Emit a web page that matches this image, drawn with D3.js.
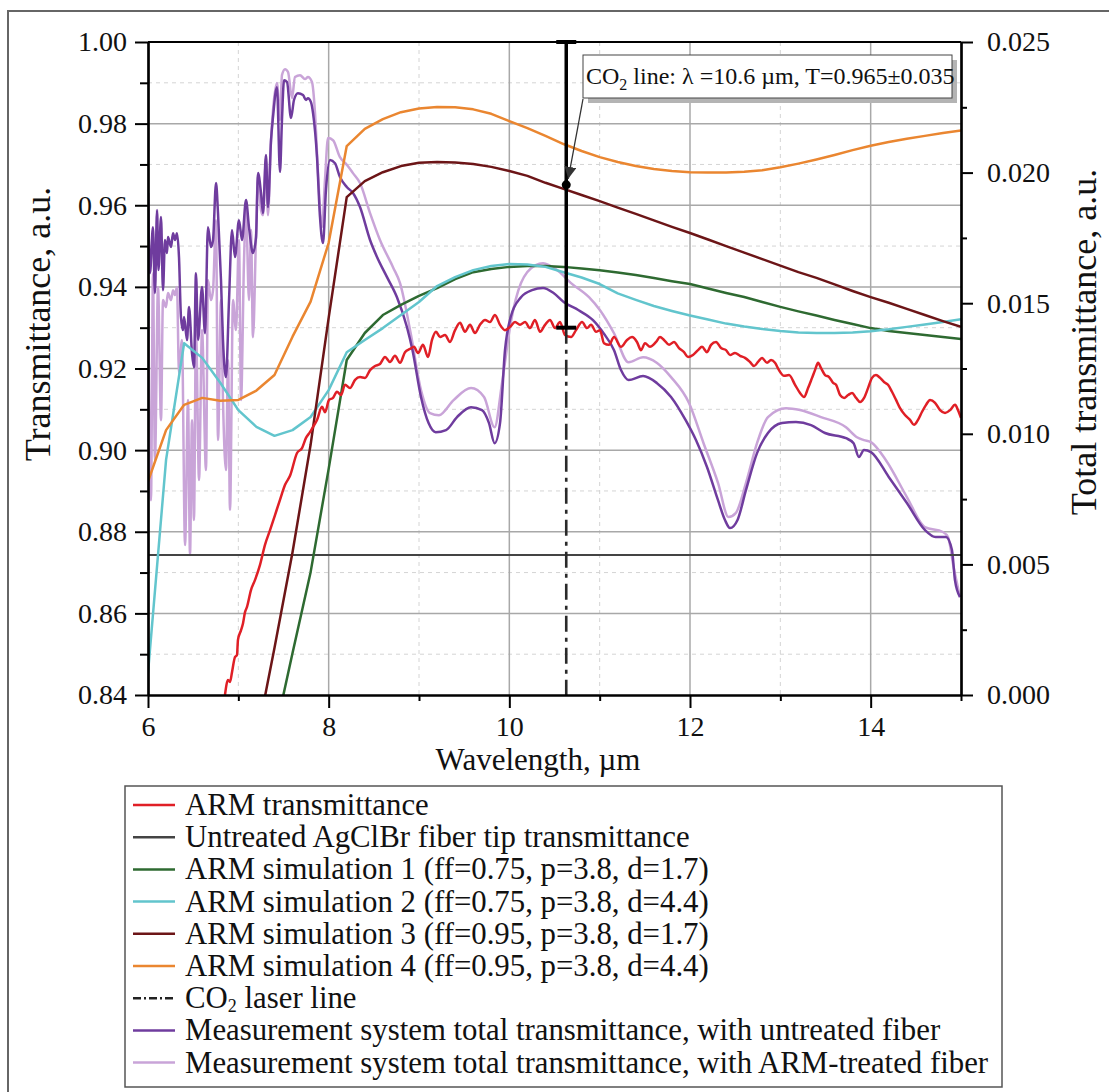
<!DOCTYPE html>
<html>
<head>
<meta charset="utf-8">
<script src="https://cdn.jsdelivr.net/npm/d3@7"></script>
<style>
  body { margin: 0; background: #fff; }
  svg { display: block; font-family: "Liberation Serif", "Times New Roman", serif; }
</style>
</head>
<body>
<svg id="canvas" width="1109" height="1092"></svg>
<script>
// simulation grid (µm)
let simWl = [6.0,6.2,6.4,6.6,6.8,7.0,7.2,7.4,7.6,7.8,8.0,8.2,8.4,8.6,8.8,9.0,9.2,9.4,9.6,9.8,10.0,10.2,10.4,10.6,10.8,11.0,11.2,11.4,11.6,11.8,12.0,12.2,12.4,12.6,12.8,13.0,13.2,13.4,13.6,13.8,14.0,14.2,14.4,14.6,14.8,15.0];
let sim1 = [null,null,null,null,null,null,null,0.8300,0.8503,0.8701,0.8954,0.9221,0.9287,0.9331,0.9356,0.9378,0.9397,0.9419,0.9436,0.9444,0.9449,0.9451,0.9451,0.9449,0.9445,0.9441,0.9435,0.9429,0.9422,0.9414,0.9407,0.9396,0.9385,0.9375,0.9363,0.9351,0.9340,0.9330,0.9319,0.9309,0.9299,0.9292,0.9287,0.9282,0.9277,0.9272];
let sim2 = [0.8454,0.8976,0.9262,0.9226,0.9165,0.9098,0.9057,0.9035,0.9049,0.9081,0.9147,0.9240,0.9270,0.9299,0.9331,0.9363,0.9402,0.9424,0.9441,0.9451,0.9456,0.9455,0.9449,0.9436,0.9423,0.9407,0.9384,0.9368,0.9353,0.9341,0.9330,0.9320,0.9310,0.9303,0.9297,0.9292,0.9288,0.9287,0.9287,0.9288,0.9291,0.9296,0.9302,0.9308,0.9314,0.9321];
let sim3 = [null,null,null,null,null,null,0.8290,0.8515,0.8750,0.9013,0.9324,0.9620,0.9659,0.9681,0.9696,0.9704,0.9706,0.9705,0.9701,0.9694,0.9684,0.9672,0.9655,0.9640,0.9625,0.9610,0.9594,0.9579,0.9563,0.9547,0.9532,0.9516,0.9500,0.9484,0.9468,0.9452,0.9436,0.9422,0.9406,0.9390,0.9375,0.9361,0.9346,0.9331,0.9316,0.9302];
let sim4 = [0.8923,0.9049,0.9111,0.9128,0.9121,0.9123,0.9146,0.9184,0.9278,0.9364,0.9508,0.9745,0.9787,0.9811,0.9828,0.9837,0.9841,0.9840,0.9835,0.9824,0.9806,0.9789,0.9770,0.9750,0.9733,0.9718,0.9706,0.9696,0.9689,0.9684,0.9681,0.9680,0.9680,0.9682,0.9686,0.9693,0.9702,0.9712,0.9723,0.9735,0.9746,0.9755,0.9763,0.9770,0.9777,0.9783];

// measured ARM transmittance
let armWl = [6.852,6.886,6.908,6.930,6.963,6.985,6.996,7.030,7.052,7.074,7.096,7.140,7.185,7.240,7.295,7.351,7.406,7.461,7.517,7.572,7.650,7.705,7.749,7.793,7.827,7.871,7.926,7.960,8.004,8.048,8.092,8.137,8.181,8.236,8.292,8.347,8.402,8.458,8.513,8.568,8.624,8.679,8.734,8.790,8.845,8.900,8.945,8.989,9.044,9.100,9.144,9.188,9.233,9.288,9.343,9.399,9.454,9.509,9.565,9.620,9.675,9.731,9.786,9.841,9.897,9.952,10.008,10.063,10.118,10.174,10.229,10.284,10.340,10.395,10.450,10.506,10.561,10.616,10.683,10.738,10.805,10.860,10.904,10.960,11.004,11.048,11.103,11.159,11.236,11.303,11.358,11.413,11.458,11.502,11.557,11.624,11.668,11.712,11.768,11.823,11.878,11.934,11.978,12.033,12.089,12.133,12.188,12.233,12.288,12.344,12.399,12.443,12.498,12.554,12.609,12.664,12.709,12.753,12.797,12.853,12.897,12.941,12.985,13.041,13.096,13.163,13.218,13.262,13.307,13.351,13.384,13.418,13.451,13.495,13.540,13.584,13.617,13.661,13.706,13.750,13.794,13.839,13.883,13.927,13.971,14.015,14.059,14.104,14.148,14.192,14.236,14.281,14.325,14.380,14.436,14.480,14.524,14.569,14.613,14.657,14.713,14.768,14.823,14.879,14.934,14.967,15.000];
let armT = [0.8400,0.8437,0.8432,0.8456,0.8493,0.8498,0.8535,0.8559,0.8576,0.8603,0.8616,0.8657,0.8682,0.8719,0.8768,0.8804,0.8841,0.8878,0.8915,0.8937,0.8993,0.9005,0.9030,0.9044,0.9057,0.9074,0.9106,0.9093,0.9123,0.9128,0.9143,0.9135,0.9160,0.9152,0.9172,0.9179,0.9177,0.9196,0.9206,0.9211,0.9228,0.9216,0.9231,0.9214,0.9240,0.9248,0.9253,0.9238,0.9258,0.9228,0.9270,0.9290,0.9277,0.9282,0.9265,0.9294,0.9312,0.9290,0.9307,0.9287,0.9307,0.9319,0.9314,0.9331,0.9307,0.9294,0.9302,0.9314,0.9307,0.9314,0.9299,0.9319,0.9290,0.9307,0.9319,0.9299,0.9314,0.9282,0.9277,0.9294,0.9314,0.9299,0.9307,0.9290,0.9294,0.9262,0.9258,0.9277,0.9253,0.9270,0.9277,0.9265,0.9245,0.9262,0.9253,0.9265,0.9277,0.9270,0.9258,0.9265,0.9250,0.9240,0.9228,0.9233,0.9245,0.9253,0.9240,0.9258,0.9265,0.9250,0.9245,0.9233,0.9238,0.9231,0.9226,0.9216,0.9206,0.9216,0.9226,0.9214,0.9221,0.9214,0.9196,0.9182,0.9184,0.9160,0.9140,0.9130,0.9152,0.9177,0.9196,0.9214,0.9201,0.9184,0.9179,0.9165,0.9160,0.9135,0.9128,0.9135,0.9140,0.9128,0.9118,0.9128,0.9152,0.9177,0.9184,0.9177,0.9167,0.9160,0.9143,0.9123,0.9103,0.9086,0.9074,0.9062,0.9074,0.9094,0.9111,0.9123,0.9116,0.9098,0.9091,0.9098,0.9111,0.9098,0.9079];

// untreated fiber tip (constant)
let fiberT = 0.8743;

// measurement system total transmittance (right axis)
let untreatedWl = [6.000,6.022,6.055,6.077,6.100,6.116,6.144,6.166,6.188,6.210,6.221,6.255,6.277,6.299,6.321,6.343,6.365,6.387,6.399,6.432,6.454,6.487,6.509,6.531,6.554,6.598,6.631,6.664,6.697,6.720,6.753,6.775,6.808,6.830,6.863,6.897,6.930,6.963,7.007,7.041,7.085,7.118,7.162,7.196,7.218,7.251,7.273,7.306,7.328,7.362,7.384,7.428,7.461,7.483,7.506,7.539,7.583,7.616,7.660,7.716,7.749,7.771,7.804,7.827,7.871,7.904,7.937,7.970,8.015,8.070,8.125,8.203,8.269,8.347,8.458,8.535,8.646,8.756,8.867,8.928,9.022,9.106,9.185,9.299,9.421,9.576,9.697,9.775,9.837,9.897,9.952,10.015,10.129,10.251,10.373,10.490,10.605,10.767,10.926,11.043,11.159,11.236,11.320,11.480,11.635,11.790,11.952,12.066,12.188,12.310,12.387,12.443,12.526,12.620,12.742,12.863,13.018,13.173,13.340,13.495,13.727,13.811,13.870,13.926,14.003,14.202,14.401,14.600,14.718,14.834,14.900,14.933,14.989];
let untreatedT = [0.01922,0.01615,0.01791,0.01539,0.01857,0.01627,0.01830,0.01550,0.01742,0.01692,0.01753,0.01715,0.01768,0.01742,0.01768,0.01677,0.01447,0.01397,0.01447,0.01359,0.01485,0.01309,0.01255,0.01615,0.01359,0.01562,0.01385,0.01791,0.01715,0.01742,0.01960,0.01845,0.01589,0.01359,0.01217,0.01512,0.01780,0.01677,0.01818,0.01742,0.01895,0.01791,0.01692,0.01753,0.01998,0.01922,0.01845,0.02067,0.01868,0.02124,0.02213,0.02327,0.02002,0.02201,0.02354,0.02347,0.02209,0.02278,0.02304,0.02297,0.02278,0.02285,0.02270,0.02228,0.02059,0.01830,0.01730,0.01933,0.02048,0.02036,0.01983,0.01944,0.01922,0.01868,0.01742,0.01677,0.01600,0.01523,0.01408,0.01320,0.01141,0.01041,0.01006,0.01014,0.01064,0.01102,0.01091,0.01041,0.00964,0.01041,0.01320,0.01447,0.01523,0.01550,0.01558,0.01539,0.01504,0.01473,0.01435,0.01385,0.01320,0.01244,0.01206,0.01221,0.01194,0.01141,0.01052,0.00976,0.00873,0.00746,0.00670,0.00639,0.00670,0.00785,0.00926,0.01003,0.01041,0.01045,0.01033,0.01003,0.00983,0.00964,0.00911,0.00938,0.00930,0.00834,0.00735,0.00632,0.00605,0.00605,0.00555,0.00440,0.00375];
let treatedWl = [6.000,6.033,6.055,6.077,6.111,6.144,6.166,6.199,6.221,6.255,6.277,6.299,6.321,6.343,6.376,6.410,6.443,6.465,6.487,6.509,6.531,6.565,6.598,6.642,6.664,6.697,6.720,6.753,6.775,6.808,6.830,6.863,6.886,6.908,6.941,6.974,7.007,7.030,7.063,7.085,7.118,7.140,7.162,7.196,7.218,7.251,7.273,7.306,7.328,7.362,7.384,7.428,7.461,7.483,7.517,7.550,7.594,7.627,7.683,7.738,7.771,7.815,7.849,7.882,7.926,7.959,7.993,8.048,8.125,8.203,8.269,8.347,8.458,8.568,8.712,8.790,8.908,9.022,9.122,9.221,9.383,9.576,9.720,9.837,9.919,10.015,10.129,10.292,10.373,10.528,10.683,10.882,11.004,11.159,11.320,11.480,11.635,11.790,11.989,12.150,12.310,12.427,12.506,12.620,12.742,12.863,13.063,13.218,13.450,13.727,13.848,13.926,14.003,14.169,14.401,14.600,14.799,14.856,14.918,14.989];
let treatedT = [0.01615,0.00746,0.01615,0.00899,0.01562,0.01052,0.01512,0.01485,0.01539,0.01512,0.01550,0.01531,0.01562,0.01232,0.01359,0.00574,0.01129,0.00536,0.01052,0.00670,0.01397,0.00823,0.01397,0.00861,0.01589,0.01512,0.01550,0.01818,0.00976,0.01512,0.01129,0.00861,0.01282,0.00708,0.01512,0.01397,0.01742,0.01129,0.01665,0.01857,0.01512,0.01780,0.01370,0.01761,0.01991,0.01857,0.01837,0.02048,0.01837,0.02124,0.02239,0.02343,0.02201,0.02373,0.02396,0.02385,0.02285,0.02366,0.02373,0.02358,0.02366,0.02347,0.02228,0.01998,0.01791,0.01971,0.02132,0.02124,0.02059,0.02029,0.01998,0.01960,0.01845,0.01742,0.01638,0.01577,0.01385,0.01167,0.01079,0.01071,0.01129,0.01175,0.01141,0.01025,0.01194,0.01424,0.01577,0.01646,0.01653,0.01627,0.01577,0.01523,0.01473,0.01385,0.01274,0.01293,0.01271,0.01217,0.01118,0.00964,0.00812,0.00681,0.00696,0.00812,0.00964,0.01064,0.01098,0.01091,0.01064,0.01025,0.00987,0.00976,0.00968,0.00899,0.00758,0.00643,0.00624,0.00605,0.00490,0.00375];

// CO2 laser line with error bar
let co2Wl = 10.63;
let co2T = 0.965;
let co2Err = 0.035;

let xTicks = [6, 8, 10, 12, 14];
let xMinor = [7, 9, 11, 13, 15];
let yTicks = [0.84, 0.86, 0.88, 0.90, 0.92, 0.94, 0.96, 0.98, 1.00];
let yMinor = [0.85, 0.87, 0.89, 0.91, 0.93, 0.95, 0.97, 0.99];
let yRTicks = [0, 0.005, 0.010, 0.015, 0.020, 0.025];
let yRMinor = [0.0025, 0.0075, 0.0125, 0.0175, 0.0225];

let legendItems = [
  { label: 'ARM transmittance', color: '#e01f26' },
  { label: 'Untreated AgClBr fiber tip transmittance', color: '#444444' },
  { label: 'ARM simulation 1 (ff=0.75, p=3.8, d=1.7)', color: '#2e6a31' },
  { label: 'ARM simulation 2 (ff=0.75, p=3.8, d=4.4)', color: '#62c5cd' },
  { label: 'ARM simulation 3 (ff=0.95, p=3.8, d=1.7)', color: '#6c1517' },
  { label: 'ARM simulation 4 (ff=0.95, p=3.8, d=4.4)', color: '#ea8630' },
  { label: 'CO2 laser line', color: '#222222', dash: '8,3,2,3' },
  { label: 'Measurement system total transmittance, with untreated fiber', color: '#6f3c9e' },
  { label: 'Measurement system total transmittance, with ARM-treated fiber', color: '#c9a4d8' }
];

let canvas = d3.select('#canvas');

let plotLeft = 148, plotRight = 961, plotTop = 42, plotBottom = 695;
let x = d3.scaleLinear().domain([6, 15]).range([plotLeft, plotRight]);
let y = d3.scaleLinear().domain([0.84, 1.0]).range([plotBottom, plotTop]);
let yR = d3.scaleLinear().domain([0, 0.025]).range([plotBottom, plotTop]);

// outer frame
canvas.append('rect')
  .attr('x', 8).attr('y', 11).attr('width', 1120).attr('height', 1100)
  .attr('fill', 'none').attr('stroke', '#666').attr('stroke-width', 2);

canvas.append('clipPath').attr('id', 'plot-clip')
  .append('rect').attr('x', plotLeft).attr('y', plotTop)
  .attr('width', plotRight - plotLeft).attr('height', plotBottom - plotTop);

// grid
let grid = canvas.append('g');
grid.selectAll('.gx').data(xMinor.filter(d => d < 15)).enter().append('line')
  .attr('x1', d => x(d)).attr('x2', d => x(d)).attr('y1', plotTop).attr('y2', plotBottom)
  .attr('stroke', '#d4d4d4').attr('stroke-width', 1).attr('stroke-dasharray', '4,4');
grid.selectAll('.gy').data(yMinor).enter().append('line')
  .attr('x1', plotLeft).attr('x2', plotRight).attr('y1', d => y(d)).attr('y2', d => y(d))
  .attr('stroke', '#d4d4d4').attr('stroke-width', 1).attr('stroke-dasharray', '4,4');
grid.selectAll('.gX').data(xTicks.filter(d => d > 6)).enter().append('line')
  .attr('x1', d => x(d)).attr('x2', d => x(d)).attr('y1', plotTop).attr('y2', plotBottom)
  .attr('stroke', '#a8a8a8').attr('stroke-width', 1.5);
grid.selectAll('.gY').data(yTicks.filter(d => d > 0.84 && d < 1)).enter().append('line')
  .attr('x1', plotLeft).attr('x2', plotRight).attr('y1', d => y(d)).attr('y2', d => y(d))
  .attr('stroke', '#a8a8a8').attr('stroke-width', 1.5);

// curves
let plot = canvas.append('g').attr('clip-path', 'url(#plot-clip)');

let lineL = d3.line()
  .defined(d => d[1] !== null)
  .x(d => x(d[0])).y(d => y(d[1]));
let lineR = d3.line()
  .x(d => x(d[0])).y(d => yR(d[1]))
  .curve(d3.curveMonotoneX);
let lineNoisy = d3.line()
  .x(d => x(d[0])).y(d => y(d[1]))
  .curve(d3.curveMonotoneX);

let zip = (a, b) => a.map((v, i) => [v, b[i]]);

let drawPath = (data, gen, color, width) => {
  plot.append('path')
    .datum(data)
    .attr('d', gen)
    .attr('fill', 'none')
    .attr('stroke', color)
    .attr('stroke-width', width)
    .attr('stroke-linejoin', 'round');
};

drawPath(zip(treatedWl, treatedT), lineR, legendItems[8].color, 2.5);
drawPath(zip(untreatedWl, untreatedT), lineR, legendItems[7].color, 2.5);
drawPath([[6, fiberT], [15, fiberT]], lineL, legendItems[1].color, 2);
drawPath(zip(simWl, sim1), lineL, legendItems[2].color, 2.5);
drawPath(zip(simWl, sim2), lineL, legendItems[3].color, 2.5);
drawPath(zip(simWl, sim3), lineL, legendItems[4].color, 2.5);
drawPath(zip(simWl, sim4), lineL, legendItems[5].color, 2.5);
drawPath(zip(armWl, armT), lineNoisy, legendItems[0].color, 2.5);

// CO2 line
plot.append('line')
  .attr('x1', x(co2Wl)).attr('x2', x(co2Wl))
  .attr('y1', y(co2T - co2Err)).attr('y2', plotBottom)
  .attr('stroke', '#2a2a2a').attr('stroke-width', 2.6)
  .attr('stroke-dasharray', '16,6,4,6');

// axes
let axisStyle = (g) => {
  g.selectAll('path.domain').attr('stroke', '#000').attr('stroke-width', 2.2);
  g.selectAll('.tick line').attr('stroke', '#000').attr('stroke-width', 2);
  g.selectAll('text').attr('font-family', '"Liberation Serif", serif')
    .attr('font-size', 28).attr('fill', '#111');
};

canvas.append('g').attr('transform', `translate(${plotLeft},0)`)
  .call(d3.axisLeft(y).tickValues(yMinor).tickSize(8).tickSizeOuter(0).tickFormat(''))
  .call(axisStyle);
canvas.append('g').attr('transform', `translate(${plotLeft},0)`)
  .call(d3.axisLeft(y).tickValues(yTicks).tickSize(13).tickSizeOuter(0).tickPadding(8).tickFormat(d3.format('.2f')))
  .call(axisStyle);

canvas.append('g').attr('transform', `translate(${plotRight},0)`)
  .call(d3.axisRight(yR).tickValues(yRMinor).tickSize(6).tickSizeOuter(0).tickFormat(''))
  .call(axisStyle);
canvas.append('g').attr('transform', `translate(${plotRight},0)`)
  .call(d3.axisRight(yR).tickValues(yRTicks).tickSize(12).tickSizeOuter(0).tickPadding(14).tickFormat(d3.format('.3f')))
  .call(axisStyle);

canvas.append('g').attr('transform', `translate(0,${plotBottom})`)
  .call(d3.axisBottom(x).tickValues(xMinor).tickSize(6).tickSizeOuter(0).tickFormat(''))
  .call(axisStyle);
let xAxis = canvas.append('g').attr('transform', `translate(0,${plotBottom})`)
  .call(d3.axisBottom(x).tickValues(xTicks).tickSize(13).tickSizeOuter(0).tickFormat(d3.format('d')))
  .call(axisStyle);
xAxis.selectAll('text').attr('y', 41).attr('dy', 0);

canvas.append('line')
  .attr('x1', plotLeft).attr('x2', plotRight).attr('y1', plotTop).attr('y2', plotTop)
  .attr('stroke', '#000').attr('stroke-width', 2.2);

// axis titles
canvas.append('text')
  .attr('transform', 'translate(50,324) rotate(-90)')
  .attr('text-anchor', 'middle').attr('font-size', 36).attr('fill', '#111')
  .text('Transmittance, a.u.');
canvas.append('text')
  .attr('transform', 'translate(1096,342) rotate(-90)')
  .attr('text-anchor', 'middle').attr('font-size', 36).attr('fill', '#111')
  .text('Total transmittance, a.u.');
canvas.append('text')
  .attr('x', 538).attr('y', 770)
  .attr('text-anchor', 'middle').attr('font-size', 31).attr('fill', '#111')
  .text('Wavelength, µm');

// error bar + point
let ex = x(co2Wl);
canvas.append('line')
  .attr('x1', ex).attr('x2', ex).attr('y1', y(co2T + co2Err)).attr('y2', y(co2T - co2Err))
  .attr('stroke', '#000').attr('stroke-width', 3.5);
[co2T + co2Err, co2T - co2Err].forEach(v => {
  canvas.append('line')
    .attr('x1', ex - 10).attr('x2', ex + 10).attr('y1', y(v)).attr('y2', y(v))
    .attr('stroke', '#000').attr('stroke-width', 4);
});
canvas.append('circle')
  .attr('cx', ex).attr('cy', y(co2T)).attr('r', 4.5).attr('fill', '#000');

// annotation
let defs = canvas.append('defs');
defs.append('marker').attr('id', 'arrow')
  .attr('viewBox', '0 0 10 10').attr('refX', 10).attr('refY', 5)
  .attr('markerWidth', 12).attr('markerHeight', 12).attr('markerUnits', 'userSpaceOnUse')
  .attr('orient', 'auto')
  .append('path').attr('d', 'M0,0 L10,5 L0,10 z').attr('fill', '#333');

canvas.append('line')
  .attr('x1', 583).attr('y1', 99).attr('x2', ex + 2).attr('y2', y(co2T) - 6)
  .attr('stroke', '#333').attr('stroke-width', 1.3).attr('marker-end', 'url(#arrow)');

canvas.append('rect').attr('x', 588).attr('y', 60).attr('width', 369).attr('height', 43).attr('fill', '#b4b4b4');
canvas.append('rect').attr('x', 583).attr('y', 55).attr('width', 369).attr('height', 43)
  .attr('fill', '#fff').attr('stroke', '#444').attr('stroke-width', 1);
let note = canvas.append('text').attr('x', 586).attr('y', 84).attr('font-size', 24).attr('fill', '#111');
note.append('tspan').text('CO');
note.append('tspan').attr('font-size', 16).attr('dy', 6).text('2');
note.append('tspan').attr('dy', -6).text(' line: λ =10.6 µm, T=0.965±0.035');

// legend
let legend = canvas.append('g');
legend.append('rect').attr('x', 125).attr('y', 786).attr('width', 877).attr('height', 301)
  .attr('fill', '#fff').attr('stroke', '#555').attr('stroke-width', 1.5);

legendItems.forEach((item, i) => {
  let by = 815 + i * 32.2;
  legend.append('line')
    .attr('x1', 133).attr('x2', 175).attr('y1', by - 10).attr('y2', by - 10)
    .attr('stroke', item.color).attr('stroke-width', 2.5)
    .attr('stroke-dasharray', item.dash || null);
  let t = legend.append('text').attr('x', 185).attr('y', by).attr('font-size', 30.8).attr('fill', '#111');
  if (item.label.startsWith('CO2')) {
    t.append('tspan').text('CO');
    t.append('tspan').attr('font-size', 18).attr('dy', 4).text('2');
    t.append('tspan').attr('dy', -4).text(' laser line');
  } else {
    t.text(item.label);
  }
});
</script>
</body>
</html>
